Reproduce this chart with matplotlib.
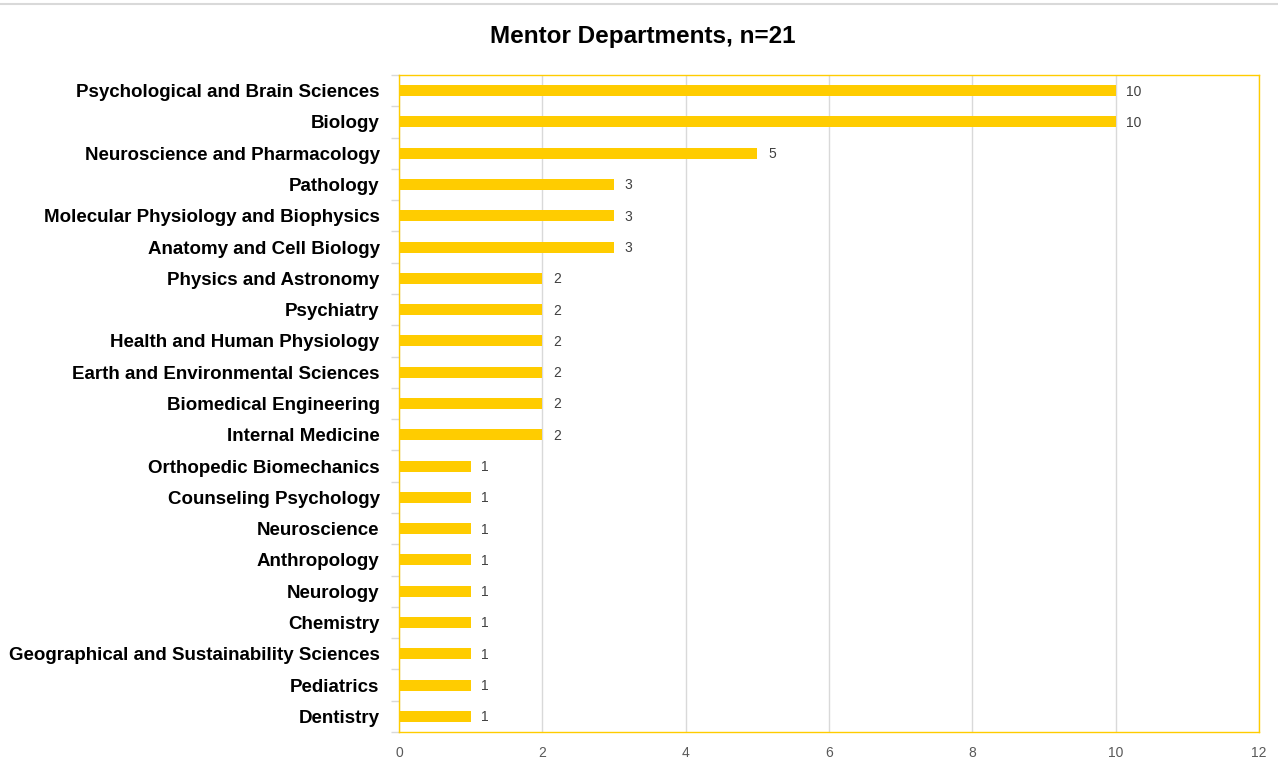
import numpy as np
import matplotlib.pyplot as plt
from matplotlib.lines import Line2D

departments = ['Psychological and Brain Sciences', 'Biology', 'Neuroscience and Pharmacology',
               'Pathology', 'Molecular Physiology and Biophysics', 'Anatomy and Cell Biology',
               'Physics and Astronomy', 'Psychiatry', 'Health and Human Physiology',
               'Earth and Environmental Sciences', 'Biomedical Engineering', 'Internal Medicine',
               'Orthopedic Biomechanics', 'Counseling Psychology', 'Neuroscience', 'Anthropology',
               'Neurology', 'Chemistry', 'Geographical and Sustainability Sciences', 'Pediatrics',
               'Dentistry']
counts = [10, 10, 5, 3, 3, 3, 2, 2, 2, 2, 2, 2, 1, 1, 1, 1, 1, 1, 1, 1, 1]
xticks = [0, 2, 4, 6, 8, 10, 12]

plt.rcParams['font.family'] = ['Liberation Sans', 'DejaVu Sans']
gold = '#FFCC00'

fig = plt.figure(figsize=(12.78, 7.69), dpi=100)
ax = fig.add_axes([399/1278, 1-732/769, 860/1278, 657/769])

y = np.arange(len(departments))
ax.barh(y, counts, height=0.35, color=gold, zorder=3)
for yi, v in zip(y, counts):
    ax.text(v + 0.15, yi + 0.03, str(v), va='center', ha='left', fontsize=10,
            color='#404040')

ax.set_xlim(0, 12)
ax.set_ylim(len(departments) - 0.5, -0.5)
ax.set_xticks(xticks)
ax.set_xticklabels([str(t) for t in xticks], fontsize=10, color='#595959')
ax.set_yticks(y)
ax.set_yticklabels(departments, fontsize=13.5, fontweight='bold', color='black')
ax.tick_params(axis='y', length=0, pad=14)
ax.tick_params(axis='x', length=0, pad=10)
ax.set_yticks(np.arange(len(departments) + 1) - 0.5, minor=True)
ax.tick_params(axis='y', which='minor', length=6, color='#D9D9D9', width=1)
ax.grid(axis='x', color='#D9D9D9', linewidth=1, zorder=0)
for s in ax.spines.values():
    s.set_color(gold)
    s.set_linewidth(1)

fig.text(643/1278, 1-37/769, 'Mentor Departments, n=21', ha='center', va='center',
         fontsize=17.5, fontweight='bold')
fig.add_artist(Line2D([0, 1], [1-4/769, 1-4/769], color='#D9D9D9', linewidth=1.5))

fig.savefig('out.png', dpi=100)
plt.close()
